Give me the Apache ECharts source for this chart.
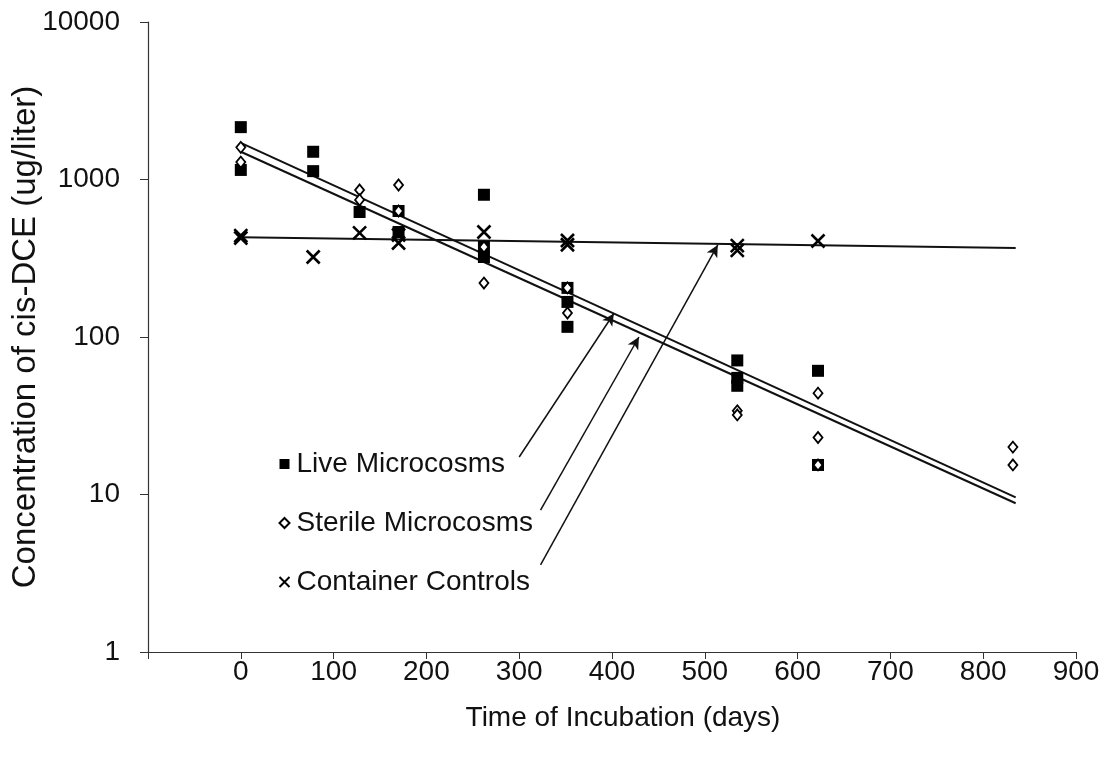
<!DOCTYPE html>
<html>
<head>
<meta charset="utf-8">
<script src="https://cdn.jsdelivr.net/npm/echarts@6/dist/echarts.min.js"></script>
<style>
  html, body { margin: 0; padding: 0; background: #fff; }
  #chart { width: 1106px; height: 760px; }
</style>
</head>
<body>
<div id="chart"></div>
<script>
// Incubation time (days) and cis-DCE concentration (ug/liter)
const liveMicrocosms = [
  [0, 2150], [0, 1150], [78, 1500], [78, 1130], [128, 622], [170, 464], [170, 631],
  [262, 800], [262, 373], [262, 322], [352, 205], [352, 167], [352, 116],
  [535, 71], [535, 55], [535, 49], [622, 61], [622, 15.4]
];
const sterileMicrocosms = [
  [0, 1600], [0, 1290], [128, 858], [128, 742], [170, 923], [170, 631],
  [262, 373], [262, 220], [352, 205], [352, 142], [535, 34], [535, 32],
  [622, 44], [622, 23], [622, 15.4], [832, 20], [832, 15.4]
];
const containerControls = [
  [0, 440], [0, 425], [78, 322], [128, 458], [170, 444], [170, 395],
  [262, 464], [352, 410], [352, 385], [535, 380], [535, 355], [622, 407]
];

// First-order fits (end points of each trend line)
const liveFit = [[0, 1710], [835, 9.6]];
const sterileFit = [[0, 1500], [835, 8.8]];
const controlFit = [[0, 430], [835, 367]];

// Callout arrows: [label end, point on trend line]
const liveCallout = [[300, 17.3], [402, 141]];
const sterileCallout = [[323, 7.97], [429, 100]];
const controlCallout = [[323, 3.57], [514, 384]];

const xTicks = [-100, 900, 100];
const yRange = [1, 10000];

const FONT = 'Liberation Sans, Arial, sans-serif';
const INK = '#111';
const CROSS = 'path://M0,0L10,10M10,0L0,10';

function callout(pts) {
  return [[{ coord: pts[0] }, { coord: pts[1] }]];
}

const chart = echarts.init(document.getElementById('chart'), null, { renderer: 'canvas' });

chart.setOption({
  backgroundColor: '#fff',
  animation: false,
  grid: {
    left: 148, right: 30, top: 22, bottom: 108,
    containLabel: false,
    outerBoundsMode: 'none'
  },
  xAxis: {
    type: 'value',
    min: xTicks[0], max: xTicks[1], interval: xTicks[2],
    name: 'Time of Incubation (days)',
    nameLocation: 'middle',
    nameGap: 52,
    nameMoveOverlap: false,
    nameTextStyle: { fontFamily: FONT, fontSize: 28, color: INK, padding: [0, 0, 0, 22] },
    axisLine: { onZero: false, lineStyle: { color: '#333', width: 1.2 } },
    axisTick: { show: true, inside: false, length: 7, lineStyle: { color: '#333' } },
    axisLabel: {
      fontFamily: FONT, fontSize: 28, color: INK, margin: 6,
      formatter: v => (v < 0 ? '' : String(v))
    },
    splitLine: { show: false }
  },
  yAxis: {
    type: 'log',
    logBase: 10,
    min: yRange[0], max: yRange[1],
    name: 'Concentration of cis-DCE (ug/liter)',
    nameLocation: 'middle',
    nameRotate: 90,
    nameGap: 106,
    nameMoveOverlap: false,
    nameTextStyle: { fontFamily: FONT, fontSize: 33, color: INK },
    axisLine: { show: true, onZero: false, lineStyle: { color: '#333', width: 1.2 } },
    axisTick: { show: true, inside: false, length: 8, lineStyle: { color: '#333' } },
    axisLabel: {
      fontFamily: FONT, fontSize: 28, color: INK, margin: 28,
      formatter: v => String(Math.round(v))
    },
    minorTick: { show: false },
    splitLine: { show: false }
  },
  legend: {
    orient: 'vertical',
    left: 272,
    top: 445,
    itemGap: 31,
    itemWidth: 10,
    itemHeight: 10,
    textStyle: { fontFamily: FONT, fontSize: 28, color: INK, padding: [0, 0, 0, 2] },
    data: [
      { name: 'Live Microcosms', icon: 'rect' },
      { name: 'Sterile Microcosms', icon: 'diamond' },
      { name: 'Container Controls', icon: CROSS }
    ]
  },
  series: [
    {
      name: 'Live fit', type: 'line', data: liveFit, symbol: 'none',
      lineStyle: { color: INK, width: 2 }, silent: true, z: 2
    },
    {
      name: 'Sterile fit', type: 'line', data: sterileFit, symbol: 'none',
      lineStyle: { color: INK, width: 2 }, silent: true, z: 2
    },
    {
      name: 'Control fit', type: 'line', data: controlFit, symbol: 'none',
      lineStyle: { color: INK, width: 2 }, silent: true, z: 2,
      markLine: {
        silent: true,
        symbol: ['none', 'arrow'],
        symbolSize: [9, 12],
        label: { show: false },
        lineStyle: { color: INK, width: 1.5, type: 'solid' },
        data: [].concat(callout(liveCallout), callout(sterileCallout), callout(controlCallout))
      }
    },
    {
      name: 'Live Microcosms', type: 'scatter', data: liveMicrocosms,
      symbol: 'rect', symbolSize: 12,
      itemStyle: { color: '#000', borderColor: '#000', borderWidth: 0, opacity: 1 }, z: 3
    },
    {
      name: 'Sterile Microcosms', type: 'scatter', data: sterileMicrocosms,
      symbol: 'diamond', symbolSize: [9, 11],
      itemStyle: { color: '#fff', borderColor: '#000', borderWidth: 1.8, opacity: 1 }, z: 4
    },
    {
      name: 'Container Controls', type: 'scatter', data: containerControls,
      symbol: CROSS, symbolSize: 13,
      itemStyle: { color: 'none', borderColor: '#000', borderWidth: 2.6, opacity: 1 }, z: 5
    }
  ]
});
</script>
</body>
</html>
